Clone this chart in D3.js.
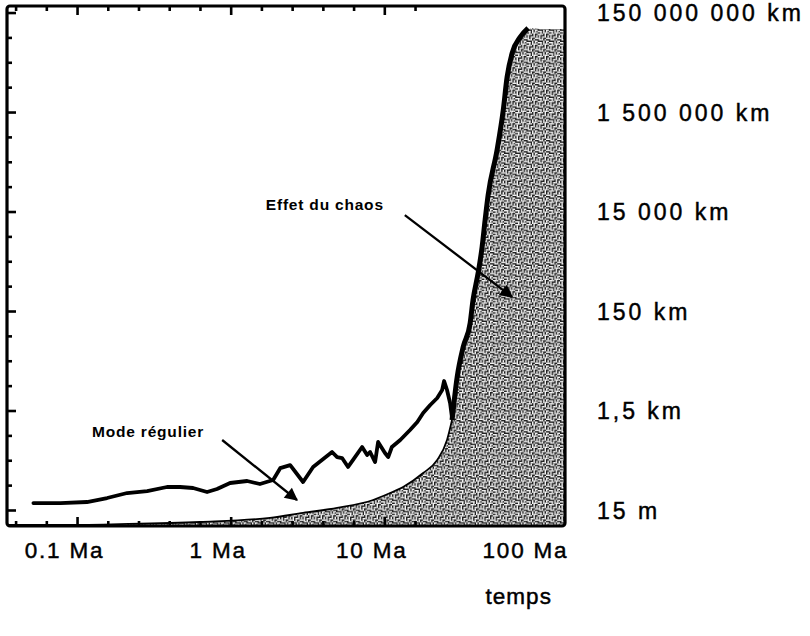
<!DOCTYPE html>
<html><head><meta charset="utf-8">
<script src="https://cdn.jsdelivr.net/npm/d3@7"></script>
<style>
body{margin:0;background:#fff}
text{font-family:"Liberation Sans",Arial,Helvetica,sans-serif;fill:#000}
</style>
</head><body>
<svg id="chart" width="810" height="636"></svg>
<script>
// ---- data (time in Ma, distance in metres) ----
const regularTime = [0.052,0.078,0.116,0.157,0.212,0.286,0.385,0.468,0.569,0.702,0.815,0.991,1.28,1.55,1.89,2.10,2.44,2.96,3.44,4.57,4.93,5.31,5.81,6.26,7.17,7.73,8.08,8.71,9.11,10.1,10.6,11.2,12.7,14.7,16.4,17.9,19.9,22.1,23.8,24.5,25.6,26.8,27.6];
const regularDist = [20.7,20.7,21.7,26.1,32.9,36.1,43.5,43.5,41.5,34.5,39.6,52.3,57.4,49.9,60.1,104,120,54.8,110,220,174,166,110,152,277,191,220,138,349,210,174,277,383,608,881,1336,1934,2675,3873,5873,3873,2121,1060];

const chaosTime = [0.035,0.078,0.19,0.63,1.8,2.96,4.93,8.45,10.9,13.25,17.9,22.1,25.6,27.6,29.8,32.6,36.2,37.8,40.8,43.3,45.3,47.4,54.2,59.4,63.0,67.9,76.6,86.3,103,150];
const chaosDist = [7.5,7.5,7.8,8.6,10.4,13.1,16.5,23.8,32.9,43.5,83,152,383,966,7070,28300,86000,250000,870000,2.9e6,1.01e7,3.2e7,2.6e8,1.6e9,7.6e9,2.3e10,4.8e10,7.3e10,7.0e10,7.0e10];

const xTickValues = [0.1,1,10,100];
const xTickLabels = ["0.1 Ma","1 Ma","10 Ma","100 Ma"];
const yTickValues = [15,1500,150000,1.5e7,1.5e9,1.5e11];
const yTickLabels = ["15 m","1,5 km","150 km","15 000 km","1 500 000 km","150 000 000 km"];
const xTitle = "temps";

const annotations = [
  {text:"Effet du chaos", tx:4.1, ty:2.03e7, from:[13.6,1.27e7], to:[67.9,2.87e5]},
  {text:"Mode régulier", tx:0.29, ty:554, from:[0.88,383], to:[2.7,23.8]}
];

// ---- scales ----
const x = d3.scaleLog().domain([0.035,150]).range([7,565]);
const y = d3.scaleLog().domain([7.15,2.03e11]).range([526,6]);
const [X0,X1] = x.range(); const [Y0,Y1] = y.range();

const svg = d3.select("#chart");
const defs = svg.append("defs");
defs.append("clipPath").attr("id","clip").append("rect")
  .attr("x",X0).attr("y",Y1).attr("width",X1-X0).attr("height",Y0-Y1);

// stipple pattern
const pat = defs.append("pattern").attr("id","stip").attr("patternUnits","userSpaceOnUse")
  .attr("width",8).attr("height",8).attr("patternTransform","scale(1.4)");
pat.append("rect").attr("width",8).attr("height",8).attr("fill","#1e1e1e");
const bits = [[0,0,3,1],[5,0,1,3],[1,2,1,3],[3,2,2,1],[3,3,1,2],[6,3,2,1],[7,1,1,2],[0,6,3,1],[4,5,1,3],[6,5,2,1],[2,4,1,1],[5,7,2,1],[6,6,1,1],[0,3,1,1],[3,0,1,1],[2,6,1,2],[5,4,1,1],[7,7,1,1],[1,1,1,1]];
bits.forEach(b=>pat.append("rect").attr("x",b[0]).attr("y",b[1]).attr("width",b[2]).attr("height",b[3]).attr("fill","#f6f6f6"));

const chaos = chaosTime.map((t,i)=>({t, d:chaosDist[i]}));
const regular = regularTime.map((t,i)=>({t, d:regularDist[i]}));

const g = svg.append("g").attr("clip-path","url(#clip)");
g.append("path").datum(chaos)
  .attr("d", d3.area().curve(d3.curveMonotoneX).x(d=>x(d.t)).y0(Y0).y1(d=>y(d.d)))
  .attr("fill","url(#stip)");
// thin edge of smooth part
g.append("path").datum(chaos.filter(d=>d.t<=27.6))
  .attr("d", d3.line().curve(d3.curveMonotoneX).x(d=>x(d.t)).y(d=>y(d.d)))
  .attr("fill","none").attr("stroke","#000").attr("stroke-width",1.8);
// thick chaos edge
g.append("path").datum(chaos.filter(d=>d.t>=27.6 && d.t<=86.3))
  .attr("d", d3.line().curve(d3.curveMonotoneX).x(d=>x(d.t)).y(d=>y(d.d)))
  .attr("fill","none").attr("stroke","#000").attr("stroke-width",5).attr("stroke-linejoin","round");
// regular line
g.append("path").datum(regular)
  .attr("d", d3.line().x(d=>x(d.t)).y(d=>y(d.d)))
  .attr("fill","none").attr("stroke","#000").attr("stroke-width",3.8)
  .attr("stroke-linejoin","round").attr("stroke-linecap","round");

// ---- ticks ----
const xMinor = d3.range(-8,12).map(k=>({v:0.1*Math.pow(10,0.2*k), major:k%5===0}))
  .filter(d=>x(d.v)>X0+3 && x(d.v)<X1-3);
const yMinor = d3.range(-2,24).map(k=>({v:1.5*Math.pow(10,k/2), major:(k-2)%4===0}))
  .filter(d=>y(d.v)>Y1+3 && y(d.v)<Y0-3);

function ticksX(ypos, dir){
  [[false,5],[true,9]].forEach(([maj,len])=>{
    svg.append("g").attr("transform",`translate(0,${ypos})`)
      .call(d3.axisBottom(x).tickValues(xMinor.filter(d=>d.major===maj).map(d=>d.v)).tickSize(dir*len).tickFormat("").tickSizeOuter(0))
      .call(a=>a.select(".domain").remove())
      .selectAll("line").attr("stroke-width",2.6);
  });
}
ticksX(Y1,1); ticksX(Y0,-1);
[[false,5],[true,9]].forEach(([maj,len])=>{
  svg.append("g").attr("transform",`translate(${X0},0)`)
    .call(d3.axisRight(y).tickValues(yMinor.filter(d=>d.major===maj).map(d=>d.v)).tickSize(len).tickFormat("").tickSizeOuter(0))
    .call(a=>a.select(".domain").remove()).selectAll("line").attr("stroke-width",2.6);
});

// frame
svg.append("rect").attr("x",X0).attr("y",Y1).attr("width",X1-X0).attr("height",Y0-Y1)
  .attr("rx",3).attr("fill","none").attr("stroke","#000").attr("stroke-width",3.2);

// ---- labels ----
const xAx = svg.append("g").attr("transform",`translate(0,${Y0})`)
  .call(d3.axisBottom(x).tickValues(xTickValues).tickFormat((d,i)=>xTickLabels[i]).tickSize(0).tickPadding(0));
xAx.select(".domain").remove();
xAx.selectAll("text").attr("font-size",22.5).attr("dx",-13).attr("dy",0).attr("y",32)
  .style("letter-spacing","1.8px").attr("font-family","Liberation Sans, Arial, sans-serif")
  .attr("fill","#000").attr("stroke","#000").attr("stroke-width",0.45);

const yAx = svg.append("g").attr("transform",`translate(${X1},0)`)
  .call(d3.axisRight(y).tickValues(yTickValues).tickFormat((d,i)=>yTickLabels[i]).tickSize(0).tickPadding(32));
yAx.select(".domain").remove();
yAx.selectAll("text").attr("font-size",23).attr("dy","0.36em")
  .style("letter-spacing","3px").attr("font-family","Liberation Sans, Arial, sans-serif")
  .attr("fill","#000").attr("stroke","#000").attr("stroke-width",0.45);

svg.append("text").attr("x",x(75)).attr("y",604).attr("text-anchor","middle")
  .attr("font-size",22.5).style("letter-spacing","1px").attr("stroke","#000").attr("stroke-width",0.45).text(xTitle);

// annotations
defs.append("marker").attr("id","arr").attr("viewBox","0 0 10 10").attr("refX",9).attr("refY",5)
  .attr("markerWidth",16).attr("markerHeight",13).attr("orient","auto").attr("markerUnits","userSpaceOnUse")
  .append("path").attr("d","M0,0L10,5L0,10z").attr("fill","#000");
annotations.forEach(a=>{
  svg.append("text").attr("x",x(a.tx)).attr("y",y(a.ty)).attr("dy","0.35em").attr("text-anchor","middle")
    .attr("font-size",15.5).attr("font-weight","bold").style("letter-spacing","0.8px").text(a.text);
  svg.append("line").attr("x1",x(a.from[0])).attr("y1",y(a.from[1])).attr("x2",x(a.to[0])).attr("y2",y(a.to[1]))
    .attr("stroke","#000").attr("stroke-width",2.3).attr("marker-end","url(#arr)");
});
</script>
</body></html>
